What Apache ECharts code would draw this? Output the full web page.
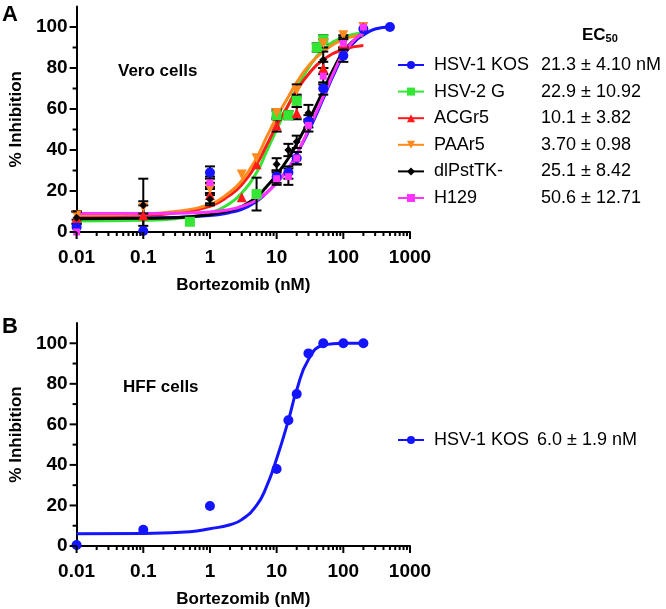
<!DOCTYPE html>
<html>
<head>
<meta charset="utf-8">
<script src="https://cdn.jsdelivr.net/npm/echarts@6/dist/echarts.min.js"></script>
<style>
  html, body { margin: 0; padding: 0; background: #fff; }
  #chart { width: 666px; height: 609px; }
</style>
</head>
<body>
<div id="chart"></div>
<script>
// 剂量-抑制曲线 (Vero / HFF)
const FONT = 'Liberation Sans, Arial, sans-serif'

const names = ['HSV-1 KOS', 'HSV-2 G', 'ACGr5', 'PAAr5', 'dlPstTK-', 'H129']
const colors = ['#1414ff', '#33e633', '#ff1a1a', '#ff8a1f', '#000000', '#ff33ff']
const symbols = ['circle', 'rect', 'triangle', 'triangle', 'diamond', 'rect']
const rotates = [0, 0, 0, 180, 0, 0]
const sizes = [10, 10, 10, 10, 8, 7]
const ec50A = ['21.3 ± 4.10 nM', '22.9 ± 10.92', '10.1 ± 3.82', '3.70 ± 0.98', '25.1 ± 8.42', '50.6 ± 12.71']
const ec50B = '6.0 ± 1.9 nM'

const xTicks = [0.01, 0.1, 1, 10, 100, 1000]
const xMinor = [0.02, 0.03, 0.04, 0.05, 0.06, 0.07, 0.08, 0.09,
  0.2, 0.3, 0.4, 0.5, 0.6, 0.7, 0.8, 0.9, 2, 3, 4, 5, 6, 7, 8, 9,
  20, 30, 40, 50, 60, 70, 80, 90, 200, 300, 400, 500, 600, 700, 800, 900]
const yTicks = [0, 20, 40, 60, 80, 100]
const yMinor = [10, 30, 50, 70, 90]

// measured points [dose, %inhibition, sem]
const kosPts = [[0.01, 2.5, 0], [0.1, 0.5, 0], [1, 29, 3], [10, 27, 3], [15, 29, 3], [20, 36, 3], [30, 54, 3], [50, 70, 3], [100, 86, 3], [200, 99, 0], [500, 100, 0]]
const hsv2Pts = [[0.5, 5, 0], [5, 18.5, 8], [10, 57, 2], [15, 57, 2], [20, 64, 3], [40, 90, 2], [50, 94, 2]]
const acgPts = [[0.01, 7, 3], [0.1, 8, 5], [1, 18, 4], [3, 17, 0], [5, 33, 0], [10, 52, 3], [20, 58, 3], [50, 80, 3], [100, 92, 2]]
const paaPts = [[0.01, 8, 2], [0.1, 12, 3], [1, 21, 3], [3, 28, 0], [5, 36, 0], [10, 58, 2], [20, 69, 3], [50, 92, 2], [100, 96, 0], [200, 100, 0]]
const tkPts = [[0.01, 7, 3], [0.1, 13, 13], [1, 16, 3], [10, 33, 3], [15, 40, 3], [20, 44, 3], [30, 58, 4], [50, 84, 4], [100, 93, 3], [200, 100, 0]]
const h129Pts = [[0.01, 0, 0], [1, 24, 3], [10, 26, 3], [15, 27, 4], [20, 36, 3], [30, 52, 3], [50, 76, 4], [100, 92, 3], [200, 100, 0]]

// fitted curves
const kosFit = [[0.01, 6.8], [0.1, 6.9], [0.3, 7.1], [1, 8], [2, 9.5], [3, 11], [5, 15], [7, 19], [10, 24], [15, 31], [20, 38], [30, 49], [50, 65], [70, 76], [100, 86], [150, 93], [200, 96], [300, 99], [500, 100]]
const hsv2Fit = [[0.01, 5.4], [0.1, 5.7], [0.3, 6.5], [1, 9.5], [2, 14], [3, 19], [5, 29], [7, 39], [10, 50], [15, 62], [20, 70], [30, 80], [50, 89], [100, 95], [200, 97]]
const acgFit = [[0.01, 8], [0.1, 8.3], [0.3, 9.3], [1, 12.5], [2, 18], [3, 23], [5, 33], [7, 42], [10, 52], [15, 62], [20, 69], [30, 77], [50, 84], [100, 89], [200, 91]]
const paaFit = [[0.01, 8.3], [0.1, 8.8], [0.3, 10], [1, 13.5], [2, 19.5], [3, 25], [5, 36], [7, 46], [10, 56], [15, 66], [20, 73], [30, 81], [50, 88], [100, 94], [200, 96]]
const tkFit = [[0.01, 6.5], [0.1, 6.7], [0.3, 7], [1, 8.5], [2, 10.5], [3, 12.5], [5, 17], [7, 22], [10, 28], [15, 36], [20, 43], [30, 54], [50, 69], [70, 79], [100, 88], [150, 94], [200, 97]]
const h129Fit = [[0.01, 9], [0.1, 9], [0.3, 9.2], [1, 9.8], [2, 11], [3, 12.5], [5, 15.5], [7, 19], [10, 24], [15, 31], [20, 38], [30, 50], [50, 66], [70, 77], [100, 87], [150, 94], [200, 97]]

const hffPts = [[0.01, 0.5], [0.1, 8], [1, 19.7], [10, 38], [15, 62], [20, 75], [30, 95], [50, 100], [100, 100], [200, 100]]
const hffFit = [[0.01, 6], [0.1, 6.2], [0.5, 7], [1, 8.5], [2, 10.5], [3, 13], [5, 20], [7, 29], [10, 43], [15, 62], [20, 77], [30, 92], [50, 99], [100, 100], [200, 100]]

const ptsA = [kosPts, hsv2Pts, acgPts, paaPts, tkPts, h129Pts]
const fitA = [kosFit, hsv2Fit, acgFit, paaFit, tkFit, h129Fit]

function xAxisFor(grid) {
  return {
    type: 'log', logBase: 10, gridIndex: grid, min: 0.01, max: 1000,
    axisLine: { onZero: false, lineStyle: { color: '#000', width: 2 } },
    axisTick: { show: false },
    axisLabel: { margin: 16, color: '#000', fontSize: 19, fontWeight: 'bold', fontFamily: FONT,
      customValues: xTicks, formatter: v => String(+(+v).toPrecision(3)) },
    splitLine: { show: false },
    name: 'Bortezomib (nM)', nameLocation: 'middle', nameGap: 45,
    nameTextStyle: { color: '#000', fontSize: 17, fontWeight: 'bold', fontFamily: FONT }
  }
}

function yAxisFor(grid) {
  return {
    type: 'value', gridIndex: grid, min: 0, max: 110, interval: 10,
    axisLine: { onZero: false, lineStyle: { color: '#000', width: 2 } },
    axisTick: { show: false },
    axisLabel: { margin: 9, color: '#000', fontSize: 19, fontWeight: 'bold', fontFamily: FONT,
      customValues: yTicks },
    splitLine: { show: false },
    name: '% Inhibition', nameLocation: 'middle', nameGap: 48, nameRotate: 90,
    nameTextStyle: { color: '#000', fontSize: 17, fontWeight: 'bold', fontFamily: FONT }
  }
}

function errData(pts) {
  return pts.filter(p => p[2] > 0).map(p => [p[0], p[1] - p[2], p[1] + p[2]])
}

function renderErr(params, api) {
  const x = api.value(0)
  const lo = api.coord([x, api.value(1)])
  const hi = api.coord([x, api.value(2)])
  const w = 5
  const st = { stroke: '#000', lineWidth: 2 }
  return {
    type: 'group',
    children: [
      { type: 'line', shape: { x1: lo[0], y1: lo[1], x2: hi[0], y2: hi[1] }, style: st },
      { type: 'line', shape: { x1: lo[0] - w, y1: lo[1], x2: lo[0] + w, y2: lo[1] }, style: st },
      { type: 'line', shape: { x1: hi[0] - w, y1: hi[1], x2: hi[0] + w, y2: hi[1] }, style: st }
    ]
  }
}

const series = []
// curves
fitA.forEach((d, i) => {
  series.push({
    name: names[i], type: 'line', xAxisIndex: 0, yAxisIndex: 0, data: d, smooth: true,
    showSymbol: false, symbol: symbols[i], symbolSize: sizes[i], symbolRotate: rotates[i],
    lineStyle: { color: colors[i], width: 3 }, itemStyle: { color: colors[i] }, z: 2
  })
})
series.push({
  name: 'HSV-1 KOS', type: 'line', xAxisIndex: 1, yAxisIndex: 1, data: hffFit, smooth: true,
  showSymbol: false, symbol: 'circle', symbolSize: 10,
  lineStyle: { color: colors[0], width: 3 }, itemStyle: { color: colors[0] }, z: 2
})
// error bars
ptsA.forEach((d, i) => {
  series.push({
    type: 'custom', xAxisIndex: 0, yAxisIndex: 0, data: errData(d), renderItem: renderErr, z: 3 + i * 0.01
  })
})
// points
ptsA.forEach((d, i) => {
  series.push({
    name: names[i], type: 'scatter', xAxisIndex: 0, yAxisIndex: 0, data: d.map(p => [p[0], p[1]]),
    symbol: symbols[i], symbolSize: sizes[i], symbolRotate: rotates[i],
    itemStyle: { color: colors[i], opacity: 1 }, z: 4
  })
})
series.push({
  name: 'HSV-1 KOS', type: 'scatter', xAxisIndex: 1, yAxisIndex: 1, data: hffPts,
  symbol: 'circle', symbolSize: 10, itemStyle: { color: colors[0], opacity: 1 }, z: 4
})

const legText = {
  color: '#000', fontSize: 18, fontFamily: FONT, lineHeight: 20,
  rich: {
    a: { fontSize: 18, fontFamily: FONT, width: 107, padding: [0, 0, 0, 5], color: '#000' },
    c: { fontSize: 18, fontFamily: FONT, width: 103, padding: [0, 0, 0, 5], color: '#000' },
    b: { fontSize: 18, fontFamily: FONT, color: '#000' }
  }
}

const texts = [
  { type: 'text', left: 2, top: 4, style: { text: 'A', fontSize: 22, fontWeight: 'bold', fontFamily: FONT, fill: '#000' } },
  { type: 'text', left: 2, top: 316, style: { text: 'B', fontSize: 22, fontWeight: 'bold', fontFamily: FONT, fill: '#000' } },
  { type: 'text', left: 118, top: 63, style: { text: 'Vero cells', fontSize: 17, fontWeight: 'bold', fontFamily: FONT, fill: '#000' } },
  { type: 'text', left: 123, top: 379, style: { text: 'HFF cells', fontSize: 17, fontWeight: 'bold', fontFamily: FONT, fill: '#000' } },
  {
    type: 'text', left: 582, top: 27,
    style: {
      text: '{e|EC}{s|50}', fill: '#000',
      rich: {
        e: { fontSize: 17, fontWeight: 'bold', fontFamily: FONT, lineHeight: 20, verticalAlign: 'bottom' },
        s: { fontSize: 11, fontWeight: 'bold', fontFamily: FONT, lineHeight: 14, verticalAlign: 'bottom' }
      }
    }
  }
]

const option = {
  animation: false,
  backgroundColor: '#fff',
  grid: [
    { left: 72, top: 6.5, width: 338, height: 225.5 },
    { left: 72, top: 323, width: 338, height: 223 }
  ],
  xAxis: [xAxisFor(0), xAxisFor(1)],
  yAxis: [yAxisFor(0), yAxisFor(1)],
  legend: [
    {
      data: names, orient: 'vertical', left: 397, top: 55, padding: 0,
      itemWidth: 26, itemHeight: 10, itemGap: 6.6, selectedMode: false,
      textStyle: legText,
      formatter: n => '{a|' + n + '}{b|' + ec50A[names.indexOf(n)] + '}'
    },
    {
      data: ['HSV-1 KOS'], orient: 'vertical', left: 397, top: 430, padding: 0,
      itemWidth: 26, itemHeight: 10, selectedMode: false,
      textStyle: legText,
      formatter: n => '{c|' + n + '}{b|' + ec50B + '}'
    }
  ],
  graphic: texts,
  series: series
}

const chart = echarts.init(document.getElementById('chart'))
chart.setOption(option)

// axis ticks: positions come from the chart's own scales
const ticks = []
function tick(g, v, isX, len) {
  const p = isX ? chart.convertToPixel({ gridIndex: g }, [v, 0]) : chart.convertToPixel({ gridIndex: g }, [0.01, v])
  if (!p) return
  ticks.push({
    type: 'line', z: 10, silent: true,
    shape: isX ? { x1: p[0], y1: p[1], x2: p[0], y2: p[1] + len } : { x1: p[0], y1: p[1], x2: p[0] - len, y2: p[1] },
    style: { stroke: '#000', lineWidth: 2 }
  })
}
;[0, 1].forEach(g => {
  xTicks.forEach(v => tick(g, v, true, 7))
  xMinor.forEach(v => tick(g, v, true, 4))
  yTicks.forEach(v => tick(g, v, false, 7))
  yMinor.forEach(v => tick(g, v, false, 4))
})
chart.setOption({ graphic: texts.concat(ticks) })
</script>
</body>
</html>
